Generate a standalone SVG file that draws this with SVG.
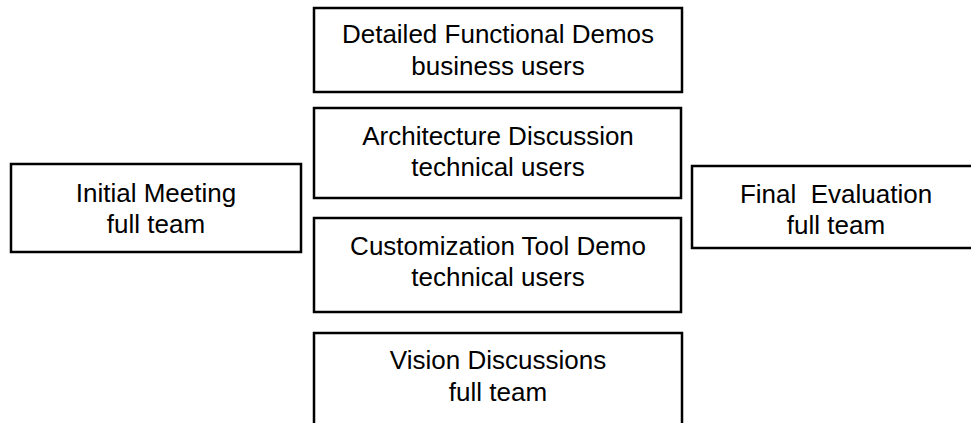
<svg xmlns="http://www.w3.org/2000/svg" width="971" height="423" viewBox="0 0 971 423">
<style>
.box{fill:#fff;stroke:#000;stroke-width:2.5}
.t{font-family:"Liberation Sans",Arial,sans-serif;font-size:26px;fill:#000;text-anchor:middle;white-space:pre}
</style>
<rect width="971" height="423" fill="#fff"/>
<g id="connectors"></g>
<g id="initial">
<rect class="box" x="11" y="164" width="290" height="88"/>
<text class="t" x="156" y="202">Initial Meeting</text>
<text class="t" x="156" y="233">full team</text>
</g>
<g id="detailed">
<rect class="box" x="314" y="8" width="368" height="84"/>
<text class="t" x="498" y="43">Detailed Functional Demos</text>
<text class="t" x="498" y="75">business users</text>
</g>
<g id="architecture">
<rect class="box" x="314" y="108" width="367" height="90"/>
<text class="t" x="498" y="145">Architecture Discussion</text>
<text class="t" x="498" y="176">technical users</text>
</g>
<g id="customization">
<rect class="box" x="314" y="218" width="367" height="94"/>
<text class="t" x="498" y="255">Customization Tool Demo</text>
<text class="t" x="498" y="286">technical users</text>
</g>
<g id="vision">
<rect class="box" x="314" y="333" width="368" height="100"/>
<text class="t" x="498" y="369">Vision Discussions</text>
<text class="t" x="498" y="401">full team</text>
</g>
<g id="final">
<rect class="box" x="692" y="166" width="290" height="82"/>
<text class="t" x="836" y="203">Final  Evaluation</text>
<text class="t" x="836" y="234">full team</text>
</g>
</svg>
